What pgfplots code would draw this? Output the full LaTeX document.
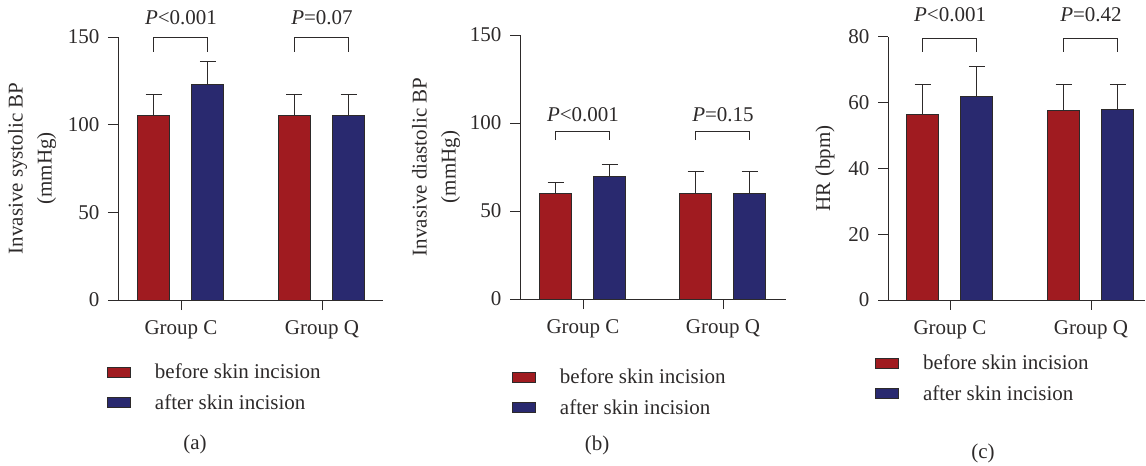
\documentclass[border=0pt]{standalone}
\usepackage{fontspec}
\setmainfont{Liberation Serif}
\usepackage{pgfplots}
\pgfplotsset{compat=1.18}
\definecolor{barred}{RGB}{160,27,32}
\definecolor{barblue}{RGB}{41,41,111}
\definecolor{ink}{RGB}{45,42,42}
\newcommand{\pf}{\fontsize{21bp}{25bp}\selectfont}
\pgfplotsset{
  panel/.style={
    scale only axis,
    axis x line*=bottom, axis y line*=left,
    axis line style={ink, line width=0.9bp},
    tick style={ink, line width=0.9bp},
    major tick length=10bp,
    tick align=outside,
    xtick={0,1}, xticklabels={Group C, Group Q},
    font=\pf,
    tick label style={font=\pf, text=ink},
    xticklabel style={yshift=-7bp},
    yticklabel style={xshift=-5bp},
    /pgf/number format/assume math mode=true,
    ymin=0, clip=false,
    ybar, bar shift=0pt, bar width=0.227,
    error bars/y dir=plus, error bars/y explicit,
    error bars/error bar style={ink, line width=0.9bp},
    error bars/error mark options={rotate=90, mark size=8bp, ink, line width=0.9bp},
    legend image code/.code={\draw[#1, draw=ink, line width=0.8bp] (0bp,-5bp) rectangle (23bp,5bp);},
    legend cell align=left,
    legend style={draw=none, fill=none, inner sep=0pt, row sep=10bp,
      /tikz/every odd column/.append style={column sep=22bp},
      font=\pf, text=ink},
  },
  redbar/.style={fill=barred, draw=ink, line width=0.8bp},
  bluebar/.style={fill=barblue, draw=ink, line width=0.8bp},
}
\begin{document}
\begin{tikzpicture}
\useasboundingbox (0,0) rectangle (1146bp,466bp);
% ---------------- (a)
\begin{axis}[panel, at={(118bp,166bp)}, anchor=south west,
  width=265bp, height=263bp, xmin=-0.447, xmax=1.433, ymax=150,
  ytick={0,50,100,150},
  legend style={at={(-11bp,-62bp)}, anchor=north west}]
\addplot[redbar] coordinates {(-0.195,105.5) +- (0,11.8) (0.805,105.5) +- (0,11.8)};
\addplot[bluebar] coordinates {(0.19,123) +- (0,12.8) (1.19,105.5) +- (0,11.8)};
\legend{before skin incision, after skin incision}
\draw[ink, line width=0.9bp] (rel axis cs:0,0) -- ++(-11bp,0);
\draw[ink, line width=0.9bp] (axis cs:-0.195,141.5) |- (axis cs:0.19,150) -- (axis cs:0.19,141.5);
\draw[ink, line width=0.9bp] (axis cs:0.805,141.5) |- (axis cs:1.19,150) -- (axis cs:1.19,141.5);
\node[text=ink] at (axis cs:0,161) {\textit{P}<0.001};
\node[text=ink] at (axis cs:1,161) {\textit{P}=0.07};
\node[text=ink, rotate=90, align=center, font=\fontsize{21bp}{29bp}\selectfont] at ([xshift=-86bp]rel axis cs:0,0.5) {Invasive systolic BP\\(mmHg)};
\end{axis}
% ---------------- (b)
\begin{axis}[panel, at={(520bp,167bp)}, anchor=south west,
  width=266bp, height=264bp, xmin=-0.45, xmax=1.45, ymax=150,
  ytick={0,50,100,150},
  legend style={at={(-8bp,-68bp)}, anchor=north west}]
\addplot[redbar] coordinates {(-0.195,60) +- (0,6.3) (0.805,60) +- (0,12.2)};
\addplot[bluebar] coordinates {(0.19,69.5) +- (0,7.2) (1.19,60) +- (0,12.2)};
\legend{before skin incision, after skin incision}
\draw[ink, line width=0.9bp] (rel axis cs:0,0) -- ++(-11bp,0);
\draw[ink, line width=0.9bp] (axis cs:-0.195,90.3) |- (axis cs:0.19,95) -- (axis cs:0.19,90.3);
\draw[ink, line width=0.9bp] (axis cs:0.805,90.3) |- (axis cs:1.19,95) -- (axis cs:1.19,90.3);
\node[text=ink] at (axis cs:0,104.5) {\textit{P}<0.001};
\node[text=ink] at (axis cs:1,104.5) {\textit{P}=0.15};
\node[text=ink, rotate=90, align=center, font=\fontsize{21bp}{29bp}\selectfont] at ([xshift=-84bp]rel axis cs:0,0.5) {Invasive diastolic BP\\(mmHg)};
\end{axis}
% ---------------- (c)
\begin{axis}[panel, at={(888bp,166bp)}, anchor=south west,
  width=257bp, height=263.3bp, xmin=-0.44, xmax=1.383, ymax=80,
  ytick={0,20,40,60,80},
  legend style={at={(-13bp,-53bp)}, anchor=north west}]
\addplot[redbar] coordinates {(-0.195,56.4) +- (0,9.0) (0.805,57.7) +- (0,7.8)};
\addplot[bluebar] coordinates {(0.19,61.8) +- (0,9.2) (1.19,58.0) +- (0,7.5)};
\legend{before skin incision, after skin incision}
\draw[ink, line width=0.9bp] (rel axis cs:0,0) -- ++(-11bp,0);
\draw[ink, line width=0.9bp] (axis cs:-0.195,75.5) |- (axis cs:0.19,79.5) -- (axis cs:0.19,75.5);
\draw[ink, line width=0.9bp] (axis cs:0.805,75.5) |- (axis cs:1.19,79.5) -- (axis cs:1.19,75.5);
\node[text=ink] at (axis cs:0,86.6) {\textit{P}<0.001};
\node[text=ink] at (axis cs:1,86.6) {\textit{P}=0.42};
\node[text=ink, rotate=90, font=\fontsize{21bp}{29bp}\selectfont] at ([xshift=-63bp]rel axis cs:0,0.5) {HR (bpm)};
\end{axis}
% captions
\node[text=ink, font=\pf] at (195bp,22bp) {(a)};
\node[text=ink, font=\pf] at (597bp,21bp) {(b)};
\node[text=ink, font=\pf] at (983bp,13bp) {(c)};
\end{tikzpicture}
\end{document}
